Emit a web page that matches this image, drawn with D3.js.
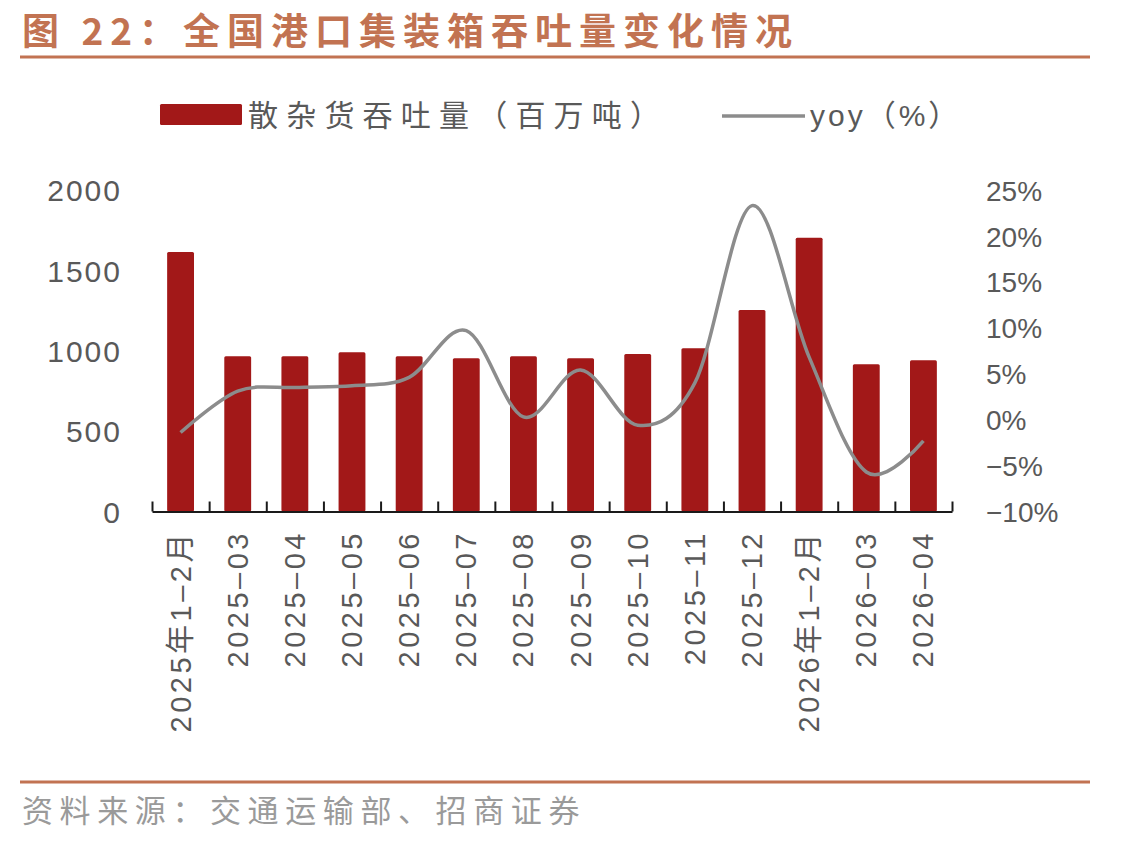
<!DOCTYPE html>
<html>
<head>
<meta charset="utf-8">
<script src="https://cdn.jsdelivr.net/npm/d3@7"></script>
<style>
  body { margin: 0; background: #fff; }
  text { font-family: "Liberation Sans", "Noto Sans CJK SC", sans-serif; }
</style>
</head>
<body>
<script>
const categories = ["2025年1–2月", "2025–03", "2025–04", "2025–05", "2025–06", "2025–07", "2025–08",
  "2025–09", "2025–10", "2025–11", "2025–12", "2026年1–2月", "2026–03", "2026–04"];
const throughput = [1615, 966, 966, 991, 966, 953, 966, 953, 980, 1016, 1253, 1703, 916, 941];
const yoy = [-1.4, 3.1, 3.5, 3.7, 4.6, 9.7, 0.3, 5.4, -0.6, 4.0, 23.3, 6.8, -5.7, -2.3];
const leftTicks = [0, 500, 1000, 1500, 2000];
const rightTicks = [-10, -5, 0, 5, 10, 15, 20, 25];

const width = 1126;
const height = 843;
const accent = "#C27352";
const barColor = "#A21818";
const lineColor = "#8C8C8C";
const textColor = "#595959";

const svg = d3.select("body")
  .append("svg")
  .attr("width", width)
  .attr("height", height);

// title
svg.append("text")
  .attr("x", 22)
  .attr("y", 45)
  .attr("fill", accent)
  .style("font-family", "'Noto Sans CJK SC', sans-serif")
  .style("font-weight", "bold")
  .style("font-size", "37px")
  .style("letter-spacing", "7px")
  .text("图 22：全国港口集装箱吞吐量变化情况");

svg.append("line")
  .attr("x1", 20).attr("x2", 1090)
  .attr("y1", 57).attr("y2", 57)
  .attr("stroke", accent)
  .attr("stroke-width", 3);

svg.append("line")
  .attr("x1", 20).attr("x2", 1090)
  .attr("y1", 782).attr("y2", 782)
  .attr("stroke", accent)
  .attr("stroke-width", 3);

svg.append("text")
  .attr("x", 22)
  .attr("y", 822)
  .attr("fill", "#9A9A9A")
  .style("font-family", "'Noto Sans CJK SC', sans-serif")
  .style("font-size", "31px")
  .style("letter-spacing", "6.6px")
  .text("资料来源：交通运输部、招商证券");

// scales
const x = d3.scaleBand()
  .domain(categories)
  .range([152, 952])
  .paddingInner(0.53)
  .paddingOuter(0.265);

const idx = d3.scaleLinear().domain([0, categories.length]).range([152, 952]);

const yL = d3.scaleLinear().domain([0, 2000]).range([511.5, 190]);
const yR = d3.scaleLinear().domain([-10, 25]).range([511.5, 190]);

// bars
svg.append("g")
  .selectAll("rect")
  .data(throughput)
  .join("rect")
  .attr("x", (d, i) => x(categories[i]))
  .attr("y", d => yL(d))
  .attr("width", x.bandwidth())
  .attr("height", d => yL(0) - yL(d))
  .attr("rx", 1.5)
  .attr("fill", barColor);

// yoy line
const line = d3.line()
  .x((d, i) => x(categories[i]) + x.bandwidth() / 2)
  .y(d => yR(d))
  .curve(d3.curveCardinal.tension(0));

svg.append("path")
  .datum(yoy)
  .attr("d", line)
  .attr("fill", "none")
  .attr("stroke", lineColor)
  .attr("stroke-width", 3.5);

// bottom axis
const xAxis = svg.append("g")
  .attr("transform", `translate(0, ${yL(0)})`)
  .call(d3.axisBottom(idx)
    .tickValues(d3.range(categories.length + 1))
    .tickSizeInner(-10)
    .tickSizeOuter(0)
    .tickFormat(""));
xAxis.selectAll("line, path").attr("stroke", "#1a1a1a").attr("stroke-width", 2);

// category labels
svg.append("g")
  .selectAll("text")
  .data(categories)
  .join("text")
  .attr("transform", d => `translate(${x(d) + x.bandwidth() / 2 + 10}, 530) rotate(-90)`)
  .attr("text-anchor", "end")
  .attr("fill", textColor)
  .style("font-size", "29px")
  .style("letter-spacing", "3.5px")
  .text(d => d);

// left axis
const leftAxis = svg.append("g")
  .attr("transform", "translate(122, 0)")
  .call(d3.axisLeft(yL).tickValues(leftTicks).tickSize(0).tickPadding(0)
    .tickFormat(d3.format("d")));
leftAxis.select(".domain").remove();
leftAxis.selectAll("text")
  .attr("fill", textColor)
  .attr("dy", "0.36em")
  .style("font-family", "'Liberation Sans', sans-serif")
  .style("font-size", "30px")
  .style("letter-spacing", "2px");

// right axis
const rightAxis = svg.append("g")
  .attr("transform", "translate(986, 0)")
  .call(d3.axisRight(yR).tickValues(rightTicks).tickSize(0).tickPadding(0)
    .tickFormat(d => (d < 0 ? "−" + Math.abs(d) : d) + "%"));
rightAxis.select(".domain").remove();
rightAxis.selectAll("text")
  .attr("fill", textColor)
  .attr("dy", "0.36em")
  .style("font-family", "'Liberation Sans', sans-serif")
  .style("font-size", "28px");

// legend
svg.append("rect")
  .attr("x", 160).attr("y", 104)
  .attr("width", 82).attr("height", 21)
  .attr("rx", 1.5)
  .attr("fill", barColor);

svg.append("text")
  .attr("x", 248).attr("y", 126)
  .attr("fill", textColor)
  .style("font-family", "'Noto Sans CJK SC', sans-serif")
  .style("font-size", "30px")
  .style("letter-spacing", "8.2px")
  .text("散杂货吞吐量（百万吨）");

svg.append("line")
  .attr("x1", 722).attr("x2", 805)
  .attr("y1", 116).attr("y2", 116)
  .attr("stroke", lineColor)
  .attr("stroke-width", 3.5);

svg.append("text")
  .attr("x", 810).attr("y", 126)
  .attr("fill", textColor)
  .style("font-size", "30px")
  .style("letter-spacing", "3px")
  .text("yoy（%）");
</script>
</body>
</html>
